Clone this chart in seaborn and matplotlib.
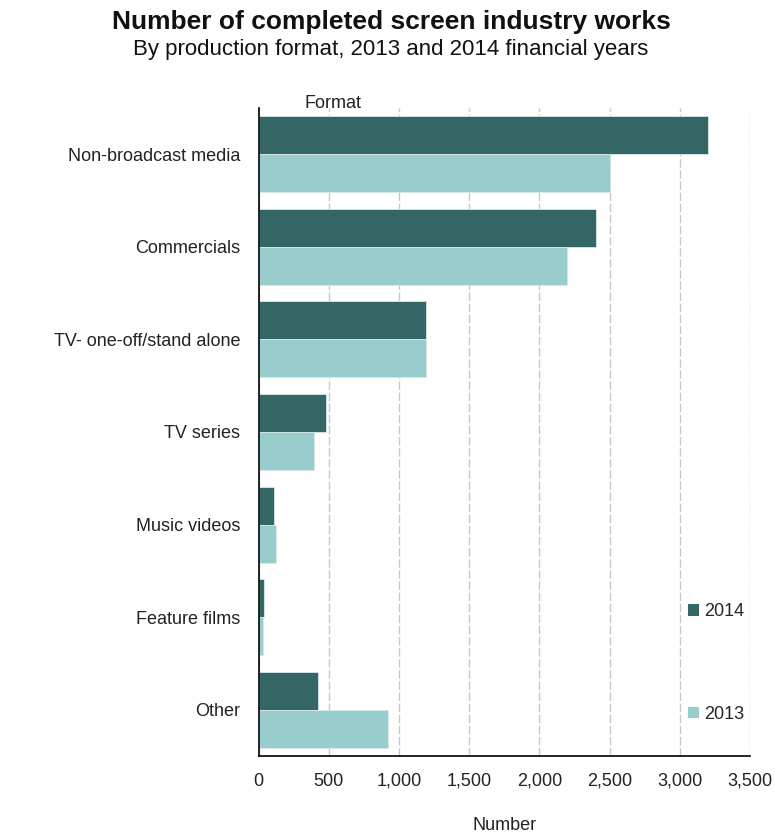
import matplotlib
matplotlib.use("Agg")
import matplotlib.pyplot as plt
import matplotlib.ticker as mticker
from matplotlib.patches import Patch
import seaborn as sns
import pandas as pd

formats = ["Non-broadcast media", "Commercials", "TV- one-off/stand alone",
           "TV series", "Music videos", "Feature films", "Other"]
works_2014 = [3200, 2400, 1190, 478, 108, 37, 421]
works_2013 = [2500, 2200, 1190, 393, 122, 32, 920]
years = ["2014", "2013"]
colors = {"2014": "#346666", "2013": "#99cccc"}

df = pd.DataFrame({
    "Format": formats * 2,
    "Year": ["2014"] * len(formats) + ["2013"] * len(formats),
    "Number": works_2014 + works_2013,
})

sns.set_theme(style="white")
plt.rcParams["font.family"] = ["Liberation Sans", "DejaVu Sans"]

fig = plt.figure(figsize=(7.82, 8.36), dpi=100)
ax = fig.add_axes([258.5 / 782, 1 - 756 / 836, (750 - 258.5) / 782, (756 - 108) / 836])

sns.barplot(data=df, y="Format", x="Number", hue="Year", hue_order=years,
            palette=colors, order=formats, orient="h", width=0.82,
            edgecolor="#d8e8e8", linewidth=0.6, saturation=1, ax=ax, legend=False)

ax.set_xlim(0, 3500)
ax.xaxis.set_major_locator(mticker.MultipleLocator(500))
ax.xaxis.set_major_formatter(mticker.FuncFormatter(lambda v, p: f"{int(v):,}"))
ax.grid(axis="x", color="#c8c8c8", linewidth=1.0, linestyle=(0, (6, 2)))
ax.set_axisbelow(True)
for s in ["top", "right"]:
    ax.spines[s].set_visible(False)
for s in ["left", "bottom"]:
    ax.spines[s].set_color("black")
    ax.spines[s].set_linewidth(1.2)
ax.tick_params(axis="y", length=0, labelsize=13, pad=13, colors="#222222")
ax.tick_params(axis="x", length=0, labelsize=13, pad=12, colors="#222222")
ax.set_ylabel("")
ax.set_xlabel("Number", fontsize=13, labelpad=20, color="#222222")

fig.text(333 / 782, 1 - 103 / 836, "Format", ha="center", va="center",
         fontsize=13, color="#222222")

handles = [Patch(facecolor=colors[y], edgecolor="none") for y in years]
ax.legend(handles, years, loc="upper left", bbox_to_anchor=(681 / 782, 1 - 596 / 836),
          bbox_transform=fig.transFigure, frameon=False, fontsize=13,
          handlelength=0.6, handleheight=0.6, handletextpad=0.3,
          labelspacing=4.75, borderaxespad=0)

fig.text(0.5, 1 - 22 / 836, "Number of completed screen industry works",
         ha="center", va="center", fontsize=19, fontweight="bold", color="#111111")
fig.text(0.5, 1 - 50 / 836, "By production format, 2013 and 2014 financial years",
         ha="center", va="center", fontsize=16, color="#111111")

fig.savefig("out.png", dpi=100)
